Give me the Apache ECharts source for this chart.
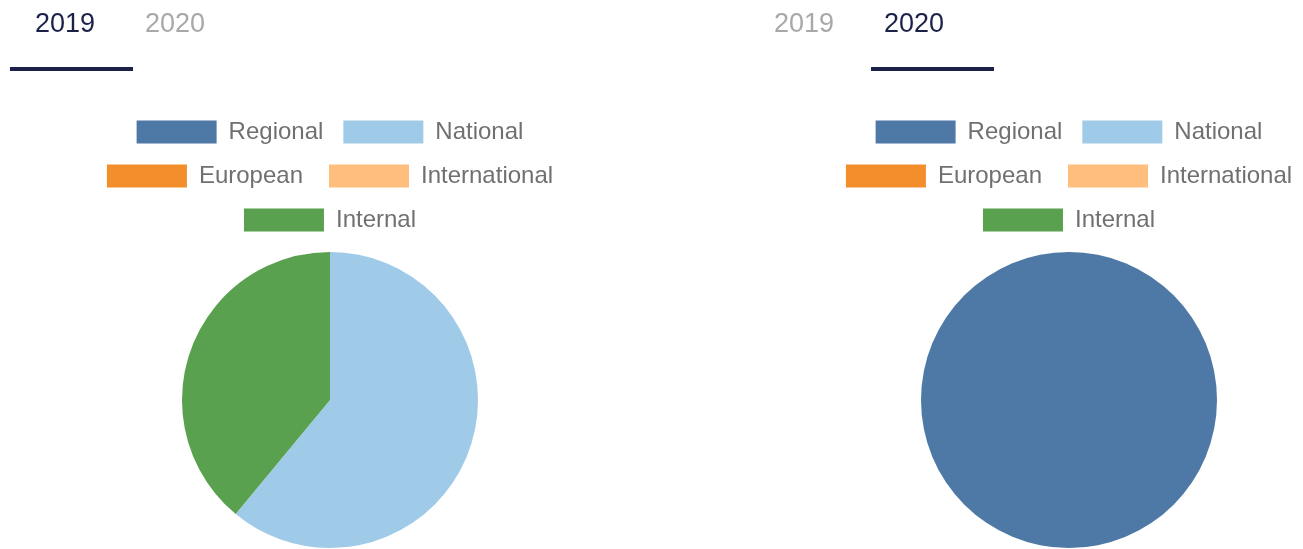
<!DOCTYPE html>
<html>
<head>
<meta charset="utf-8">
<script src="https://cdn.jsdelivr.net/npm/echarts@6/dist/echarts.min.js"></script>
<style>
  html, body { margin: 0; padding: 0; width: 1303px; height: 549px; overflow: hidden; background: #ffffff; }
  .panel { position: absolute; top: 0; width: 660px; height: 549px; }
</style>
</head>
<body>
<div id="c2019" class="panel" style="left:0px;"></div>
<div id="c2020" class="panel" style="left:739px;"></div>
<script>
// ---- data ----
const categories = ['Regional', 'National', 'European', 'International', 'Internal'];
const values2019 = [0, 61, 0, 0, 39];
const values2020 = [100, 0, 0, 0, 0];
const tabLabels = ['2019', '2020'];

// ---- styles ----
const palette = ['#4e79a7', '#a0cbe8', '#f28e2b', '#ffbe7d', '#59a14f'];
const legendRows = [[0, 1], [2, 3], [4]];
const legendTops = [120, 164, 208];
const legendGaps = [20, 26, 20];
const FONT = '"Liberation Sans", Arial, sans-serif';

function buildOption(values, activeIdx) {
  const legends = legendRows.map((row, i) => ({
    data: row.map(k => categories[k]),
    top: legendTops[i],
    left: 'center',
    orient: 'horizontal',
    icon: 'rect',
    itemWidth: 80,
    itemHeight: 23,
    itemGap: legendGaps[i],
    padding: 0,
    selectedMode: false,
    textStyle: { fontSize: 24, color: '#707070', fontFamily: FONT, padding: [0, 0, 0, 7] }
  }));
  const tabX = [35, 145];
  const graphics = tabLabels.map((t, i) => ({
    type: 'text',
    left: tabX[i],
    top: 11,
    style: {
      text: t,
      fontSize: 27,
      fontFamily: FONT,
      fill: i === activeIdx ? '#1b2148' : '#a8a8a8'
    }
  }));
  const underlineX = activeIdx === 0 ? 10 : 132;
  graphics.push({
    type: 'rect',
    shape: { x: underlineX, y: 67, width: 123, height: 4 },
    style: { fill: '#1b2148' }
  });
  return {
    animation: false,
    color: palette,
    legend: legends,
    graphic: graphics,
    series: [{
      type: 'pie',
      center: ['50%', 400],
      radius: 148,
      startAngle: 90,
      clockwise: true,
      label: { show: false },
      labelLine: { show: false },
      itemStyle: { borderWidth: 0 },
      emphasis: { disabled: true },
      data: categories.map((c, i) => ({ name: c, value: values[i] }))
    }]
  };
}

const chartA = echarts.init(document.getElementById('c2019'), null, { renderer: 'canvas' });
chartA.setOption(buildOption(values2019, 0));
const chartB = echarts.init(document.getElementById('c2020'), null, { renderer: 'canvas' });
chartB.setOption(buildOption(values2020, 1));
</script>
</body>
</html>
